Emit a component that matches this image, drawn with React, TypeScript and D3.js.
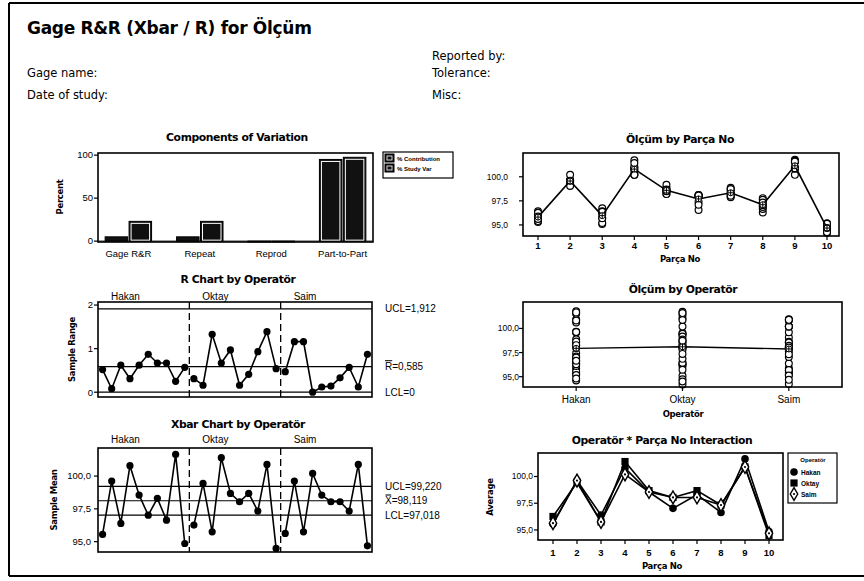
import React from 'react';
import * as d3 from 'd3';

const SANS = "'DejaVu Sans', Verdana, sans-serif";
const NARROW = "'Liberation Sans', Arial, sans-serif";

const operators = ['Hakan', 'Oktay', 'Saim'];
const parts = [1, 2, 3, 4, 5, 6, 7, 8, 9, 10];

const components = ['Gage R&R', 'Repeat', 'Reprod', 'Part-to-Part'];
const pctContribution = [5, 5, 0, 95];
const pctStudyVar = [23, 23, 0, 97.5];

// sample range per part, operators in order Hakan, Oktay, Saim
const rangeValues = [
  0.52, 0.08, 0.62, 0.31, 0.62, 0.87, 0.67, 0.67, 0.25, 0.57,
  0.31, 0.16, 1.33, 0.67, 0.97, 0.16, 0.41, 0.93, 1.39, 0.54,
  0.47, 1.16, 1.16, 0.0, 0.12, 0.14, 0.33, 0.57, 0.12, 0.87,
];
// sample mean per part, same order
const xbarValues = [
  95.55, 99.62, 96.39, 100.79, 98.55, 97.02, 98.3, 96.64, 101.65, 94.86,
  96.26, 99.44, 95.75, 101.4, 98.68, 98.04, 98.68, 97.33, 100.89, 94.48,
  95.63, 99.62, 95.75, 100.2, 98.55, 98.04, 98.04, 97.33, 100.89, 94.68,
];

const rUCL = 1.912;
const rBar = 0.585;
const rLCL = 0;
const xUCL = 99.22;
const xBarBar = 98.119;
const xLCL = 97.018;

// three trials per part
const hakanTrials = [
  [95.3, 95.82, 95.53], [99.58, 99.66, 99.62], [96.1, 96.72, 96.35], [100.62, 100.93, 100.82],
  [98.25, 98.87, 98.53], [96.55, 97.42, 97.09], [97.98, 98.65, 98.27], [96.3, 96.97, 96.65],
  [101.52, 101.77, 101.66], [94.6, 95.17, 94.81],
];
const oktayTrials = [
  [96.1, 96.41, 96.27], [99.36, 99.52, 99.44], [95.1, 96.43, 95.72], [101.05, 101.72, 101.43],
  [98.2, 99.17, 98.67], [97.96, 98.12, 98.04], [98.45, 98.86, 98.73], [96.85, 97.78, 97.36],
  [100.2, 101.59, 100.88], [94.2, 94.74, 94.5],
];
const saimTrials = [
  [95.4, 95.87, 95.62], [99.05, 100.21, 99.6], [95.2, 96.36, 95.69], [100.2, 100.2, 100.2],
  [98.5, 98.62, 98.53], [97.97, 98.11, 98.04], [97.88, 98.21, 98.03], [97.05, 97.62, 97.32],
  [100.83, 100.95, 100.89], [94.25, 95.12, 94.67],
];
const trialsByOperator = [hakanTrials, oktayTrials, saimTrials];

const meanTicks = [95, 97.5, 100];

const locale = d3.formatLocale({ decimal: ',', thousands: '.', grouping: [3], currency: ['', ''] });
const f1 = locale.format('.1f');
const f3 = locale.format('.3f');

function YAxis({ y, ticks, x, labelX, fmt, size = 8.5 }) {
  return (
    <g>
      {ticks.map(t => (
        <g key={t}>
          <line x1={x - 4} x2={x} y1={y(t)} y2={y(t)} stroke="#000" strokeWidth={1.2} />
          <text x={labelX} y={y(t)} dy="0.35em" textAnchor="end" fontSize={size} fontFamily={NARROW}>{fmt(t)}</text>
        </g>
      ))}
    </g>
  );
}

function Frame({ x0, x1, y0, y1 }) {
  return <rect x={x0} y={y0} width={x1 - x0} height={y1 - y0} fill="none" stroke="#000" strokeWidth={1.6} />;
}

function Title({ x, y, text }) {
  return <text x={x} y={y} textAnchor="middle" fontSize={10.8} fontWeight="bold" fontFamily={SANS} letterSpacing={-0.4}>{text}</text>;
}

function AxisLabel({ x, y, text, rotate = false }) {
  return (
    <text transform={`translate(${x},${y})${rotate ? ' rotate(-90)' : ''}`} textAnchor="middle" fontSize={8.5} fontWeight="bold" fontFamily={SANS} letterSpacing={-0.3}>{text}</text>
  );
}

function ComponentsPanel() {
  const x0 = 98, x1 = 373, y0 = 153, y1 = 242;
  const x = d3.scaleBand().domain(components).range([x0, x1]).paddingInner(0.35).paddingOuter(0.1);
  const sub = d3.scaleBand().domain(['c', 's']).range([0, x.bandwidth()]).paddingInner(0.06);
  const y = d3.scaleLinear().domain([-1, 102.5]).range([y1, y0]);
  const bar = (bx, v, key) => {
    const top = y(v);
    const h = y(0) - top;
    return (
      <g key={key}>
        <rect x={bx} y={top} width={sub.bandwidth()} height={Math.max(h, 0.8)} fill="#111" stroke="#000" strokeWidth={1} />
        {h > 5 && (
          <rect x={bx + 2} y={top + 2} width={sub.bandwidth() - 4} height={h - 3} fill="none" stroke="#fff" strokeWidth={1} />
        )}
      </g>
    );
  };
  return (
    <g>
      <Title x={237} y={141} text="Components of Variation" />
      <line x1={x0} x2={x1} y1={y(0)} y2={y(0)} stroke="#000" strokeWidth={1} />
      {components.map((c, i) => (
        <g key={c}>
          {bar(x(c) + sub('c'), pctContribution[i], 'c')}
          {bar(x(c) + sub('s'), pctStudyVar[i], 's')}
          <text x={x(c) + x.bandwidth() / 2} y={257} textAnchor="middle" fontSize={9.5} fontFamily={NARROW}>{c}</text>
        </g>
      ))}
      <Frame x0={x0} x1={x1} y0={y0} y1={y1} />
      <YAxis y={y} ticks={[0, 50, 100]} x={x0} labelX={93} fmt={d => String(d)} size={9.5} />
      <AxisLabel x={63} y={197} text="Percent" rotate />
      <rect x={383} y={152} width={70} height={26} fill="#fff" stroke="#000" strokeWidth={1.2} />
      {['% Contribution', '% Study Var'].map((t, i) => (
        <g key={t}>
          <rect x={385} y={154 + i * 10} width={9} height={8} fill="#111" stroke="#000" />
          <rect x={387} y={156 + i * 10} width={5} height={4} fill="none" stroke="#fff" strokeWidth={0.8} />
          <text x={397} y={161 + i * 10} fontSize={6} fontWeight="bold" fontFamily={NARROW}>{t}</text>
        </g>
      ))}
    </g>
  );
}

function ControlChart({ values, y0, y1, domain, ticks, tickFmt, labelX, title, titleY, opY, yLabel, yLabelX, limits }) {
  const x0 = 98, x1 = 372;
  const x = d3.scaleLinear().domain([0.5, 30.5]).range([x0, x1]);
  const y = d3.scaleLinear().domain(domain).range([y1, y0]);
  const line = d3.line().x(d => x(d[0])).y(d => y(d[1]));
  return (
    <g>
      <Title x={238} y={titleY} text={title} />
      {operators.map((op, k) => (
        <text key={op} x={x(10 * k + 0.5) + 13} y={opY} fontSize={10} fontFamily={NARROW}>{op}</text>
      ))}
      {limits.map(l => (
        <g key={l.rest}>
          <line x1={x0} x2={x1} y1={y(l.value)} y2={y(l.value)} stroke="#000" strokeWidth={1.2} />
          <text x={385} y={y(l.value)} dy="0.35em" fontSize={10} fontFamily={NARROW}>
            {l.bar ? <tspan textDecoration="overline">{l.sym}</tspan> : <tspan>{l.sym}</tspan>}
            <tspan>{l.rest}</tspan>
          </text>
        </g>
      ))}
      {[10.5, 20.5].map(d => (
        <line key={d} x1={x(d)} x2={x(d)} y1={y0} y2={y1} stroke="#000" strokeWidth={1.3} strokeDasharray="7,4" />
      ))}
      {operators.map((op, k) => {
        const pts = values.slice(k * 10, k * 10 + 10).map((v, i) => [k * 10 + i + 1, v]);
        return (
          <g key={op}>
            <path d={line(pts)} fill="none" stroke="#000" strokeWidth={1.6} />
            {pts.map(p => <circle key={p[0]} cx={x(p[0])} cy={y(p[1])} r={3.6} fill="#000" />)}
          </g>
        );
      })}
      <Frame x0={x0} x1={x1} y0={y0} y1={y1} />
      <YAxis y={y} ticks={ticks} x={x0} labelX={labelX} fmt={tickFmt} size={9.5} />
      <AxisLabel x={yLabelX} y={(y0 + y1) / 2} text={yLabel} rotate />
    </g>
  );
}

function MeanMark({ cx, cy }) {
  return (
    <g>
      <circle cx={cx} cy={cy} r={3} fill="#fff" stroke="#000" strokeWidth={1} />
      <line x1={cx - 3} x2={cx + 3} y1={cy} y2={cy} stroke="#000" strokeWidth={1} />
      <line x1={cx} x2={cx} y1={cy - 3} y2={cy + 3} stroke="#000" strokeWidth={1} />
    </g>
  );
}

function PartPanel() {
  const x0 = 523, x1 = 839, y0 = 153, y1 = 236;
  const x = d3.scaleLinear().domain([1, 10]).range([538, 827]);
  const y = d3.scaleLinear().domain([93.85, 102.47]).range([y1, y0]);
  const means = parts.map((p, i) => d3.mean(trialsByOperator.flatMap(t => t[i])));
  const line = d3.line().x((d, i) => x(parts[i])).y(d => y(d));
  return (
    <g>
      <Title x={680} y={143} text="Ölçüm by Parça No" />
      {parts.map((p, i) =>
        trialsByOperator.flatMap(t => t[i]).map((v, j) => (
          <circle key={`${p}-${j}`} cx={x(p)} cy={y(v)} r={3.4} fill="#fff" stroke="#000" strokeWidth={1.2} />
        ))
      )}
      <path d={line(means)} fill="none" stroke="#000" strokeWidth={1.6} />
      {means.map((m, i) => <MeanMark key={i} cx={x(parts[i])} cy={y(m)} />)}
      <Frame x0={x0} x1={x1} y0={y0} y1={y1} />
      <YAxis y={y} ticks={meanTicks} x={x0} labelX={508} fmt={f1} />
      {parts.map(p => (
        <g key={p}>
          <line x1={x(p)} x2={x(p)} y1={y1} y2={y1 + 4} stroke="#000" strokeWidth={1.2} />
          <text x={x(p)} y={249} textAnchor="middle" fontSize={9.5} fontWeight="bold" fontFamily={NARROW}>{p}</text>
        </g>
      ))}
      <AxisLabel x={680} y={262} text="Parça No" />
    </g>
  );
}

function OperatorPanel() {
  const x0 = 523, x1 = 842, y0 = 302, y1 = 387;
  const x = d3.scalePoint().domain(operators).range([x0, x1]).padding(0.5);
  const y = d3.scaleLinear().domain([93.93, 102.74]).range([y1, y0]);
  const means = operators.map((op, k) => d3.mean(trialsByOperator[k].flat()));
  const line = d3.line().x((d, i) => x(operators[i])).y(d => y(d));
  return (
    <g>
      <Title x={683} y={293} text="Ölçüm by Operatör" />
      {operators.map((op, k) =>
        trialsByOperator[k].flat().map((v, j) => (
          <circle key={`${op}-${j}`} cx={x(op)} cy={y(v)} r={3.4} fill="#fff" stroke="#000" strokeWidth={1.2} />
        ))
      )}
      <path d={line(means)} fill="none" stroke="#000" strokeWidth={1.4} />
      {means.map((m, k) => <MeanMark key={k} cx={x(operators[k])} cy={y(m)} />)}
      <Frame x0={x0} x1={x1} y0={y0} y1={y1} />
      <YAxis y={y} ticks={meanTicks} x={x0} labelX={519} fmt={f1} />
      {operators.map(op => (
        <g key={op}>
          <line x1={x(op)} x2={x(op)} y1={y1} y2={y1 + 4} stroke="#000" strokeWidth={1.2} />
          <text x={x(op)} y={403} textAnchor="middle" fontSize={10} fontFamily={NARROW}>{op}</text>
        </g>
      ))}
      <AxisLabel x={683} y={417} text="Operatör" />
    </g>
  );
}

function OpSymbol({ k, cx, cy, scale = 1 }) {
  if (k === 0) return <circle cx={cx} cy={cy} r={3.8 * scale} fill="#000" />;
  if (k === 1) return <rect x={cx - 3.6 * scale} y={cy - 3.6 * scale} width={7.2 * scale} height={7.2 * scale} fill="#000" />;
  const d = d3.symbol(d3.symbolDiamond, 48 * scale * scale)();
  return (
    <g transform={`translate(${cx},${cy})`}>
      <path d={d} fill="#fff" stroke="#000" strokeWidth={1.4} />
      <circle r={1.1} fill="#000" />
    </g>
  );
}

function InteractionPanel() {
  const x0 = 538, x1 = 783, y0 = 453, y1 = 540;
  const x = d3.scaleLinear().domain([1, 10]).range([553, 769]);
  const y = d3.scaleLinear().domain([94.06, 102.2]).range([y1, y0]);
  const line = d3.line().x((d, i) => x(parts[i])).y(d => y(d));
  return (
    <g>
      <Title x={662} y={444} text="Operatör * Parça No Interaction" />
      {operators.map((op, k) => {
        const vals = xbarValues.slice(k * 10, k * 10 + 10);
        return (
          <g key={op}>
            <path d={line(vals)} fill="none" stroke="#000" strokeWidth={1.6} />
            {vals.map((v, i) => <OpSymbol key={i} k={k} cx={x(parts[i])} cy={y(v)} />)}
          </g>
        );
      })}
      <Frame x0={x0} x1={x1} y0={y0} y1={y1} />
      <YAxis y={y} ticks={meanTicks} x={x0} labelX={533} fmt={f1} />
      {parts.map(p => (
        <g key={p}>
          <line x1={x(p)} x2={x(p)} y1={y1} y2={y1 + 4} stroke="#000" strokeWidth={1.2} />
          <text x={x(p)} y={556} textAnchor="middle" fontSize={9.5} fontWeight="bold" fontFamily={NARROW}>{p}</text>
        </g>
      ))}
      <AxisLabel x={662} y={569} text="Parça No" />
      <AxisLabel x={493} y={497} text="Average" rotate />
      <rect x={788} y={453} width={49} height={50} fill="#fff" stroke="#000" strokeWidth={1.2} />
      <text x={813} y={462} textAnchor="middle" fontSize={6} fontWeight="bold" fontFamily={NARROW}>Operatör</text>
      {operators.map((op, k) => (
        <g key={op}>
          <OpSymbol k={k} cx={794} cy={472 + k * 11} scale={1} />
          <text x={801} y={474.5 + k * 11} fontSize={6.5} fontWeight="bold" fontFamily={NARROW}>{op}</text>
        </g>
      ))}
    </g>
  );
}

export default function App() {
  const hdr = { fontSize: 11.5, fontFamily: SANS };
  return (
    <svg width={864} height={581} style={{ position: 'absolute', left: 0, top: 0, background: '#fff' }}>
      <rect x={0} y={0} width={864} height={581} fill="#fff" />
      <line x1={9} x2={864} y1={3} y2={3} stroke="#000" strokeWidth={2} />
      <line x1={9} x2={9} y1={3} y2={576} stroke="#000" strokeWidth={2} />
      <line x1={9} x2={864} y1={576} y2={576} stroke="#000" strokeWidth={2} />

      <text x={27} y={34} fontSize={17} fontWeight="bold" fontFamily={SANS} letterSpacing={-0.3}>Gage R&amp;R (Xbar / R) for Ölçüm</text>
      <text x={27} y={77} {...hdr}>Gage name:</text>
      <text x={27} y={99} {...hdr}>Date of study:</text>
      <text x={432} y={60} {...hdr}>Reported by:</text>
      <text x={432} y={77} {...hdr}>Tolerance:</text>
      <text x={432} y={99} {...hdr}>Misc:</text>

      <ComponentsPanel />
      <ControlChart
        values={rangeValues}
        y0={302} y1={397}
        domain={[-0.11, 2.07]}
        ticks={[0, 1, 2]}
        tickFmt={d => String(d)}
        labelX={93}
        title="R Chart by Operatör"
        titleY={283}
        opY={300}
        yLabel="Sample Range"
        yLabelX={75}
        limits={[
          { value: rUCL, sym: 'UCL', rest: `=${f3(rUCL)}` },
          { value: rBar, sym: 'R', bar: true, rest: `=${f3(rBar)}` },
          { value: rLCL, sym: 'LCL', rest: `=${rLCL}` },
        ]}
      />
      <ControlChart
        values={xbarValues}
        y0={448} y1={552}
        domain={[94.21, 102.14]}
        ticks={meanTicks}
        tickFmt={f1}
        labelX={91}
        title="Xbar Chart by Operatör"
        titleY={428}
        opY={443}
        yLabel="Sample Mean"
        yLabelX={57}
        limits={[
          { value: xUCL, sym: 'UCL', rest: `=${f3(xUCL)}` },
          { value: xBarBar, sym: 'X\u033F', rest: `=${f3(xBarBar)}` },
          { value: xLCL, sym: 'LCL', rest: `=${f3(xLCL)}` },
        ]}
      />
      <PartPanel />
      <OperatorPanel />
      <InteractionPanel />
    </svg>
  );
}
